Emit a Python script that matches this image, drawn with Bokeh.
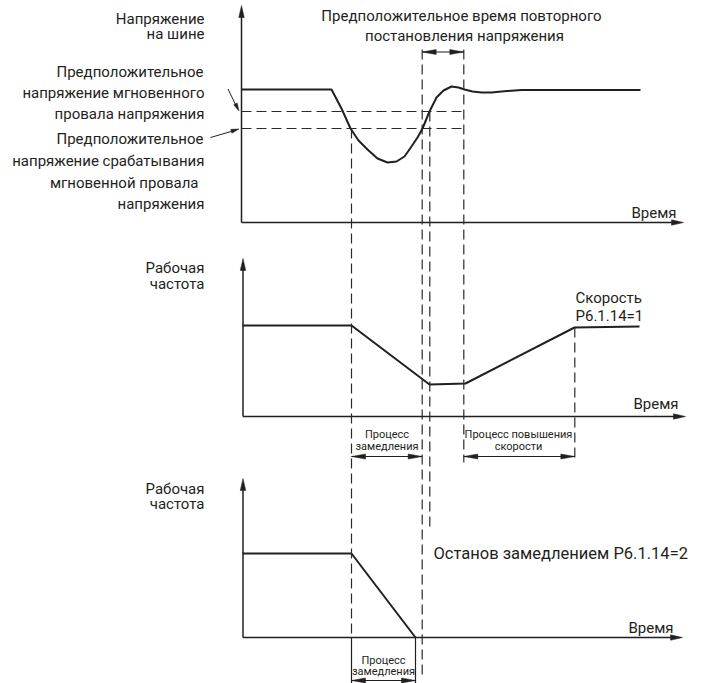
from bokeh.plotting import figure
from bokeh.models import Range1d
from bokeh.core.properties import value
from bokeh.embed import file_html
from bokeh.resources import INLINE
import math

# ---------------- data (diagram units = px) ----------------
# Panel 1: bus voltage curve
volt_t = [241, 331, 341, 350, 358, 367, 377, 387, 396, 404, 411, 417, 422, 429, 436,
          443, 451, 458, 464, 472, 481, 491, 501, 521, 640]
volt_v = [89, 89, 108, 128, 140, 149, 158, 162, 161, 156, 146, 137, 128, 111, 97,
          90, 86, 87, 89, 91, 92, 92, 91, 89.5, 89.5]
# Panel 2: working frequency, P6.1.14=1
freq1_t = [242, 351, 429, 465, 574, 639]
freq1_f = [325, 325, 384, 383, 327, 326]
# Panel 3: working frequency, P6.1.14=2
freq2_t = [242, 351, 415]
freq2_f = [553, 553, 637]
# threshold levels (panel 1)
level_recover = 111
level_trigger = 128
# event times
t_dip = 351
t_rec_a = 421.7
t_rec_b = 429.3
t_restore = 463.3
t_accel_end = 574.3
t_stop = 415
# panel axes: (x of y-axis, y of x-axis, top of y-axis, right end of x-axis)
panel_axes = [(241, 222, 5, 683), (242.5, 416, 258, 685), (242.5, 637, 478, 682)]

INK = "#231f20"
DASH = "#2a2a2a"
FONT = value("Roboto")

p = figure(width=701, height=683, x_range=Range1d(0, 701), y_range=Range1d(683, 0),
           output_backend="svg", toolbar_location=None, min_border=0)
p.axis.visible = False
p.grid.visible = False
p.outline_line_color = None

heads_x, heads_y = [], []


def head(xt, yt, xf, yf, L=12, W=5.5):
    dx, dy = xt - xf, yt - yf
    n = math.hypot(dx, dy)
    ux, uy = dx / n, dy / n
    bx, by = xt - ux * L, yt - uy * L
    px, py = -uy, ux
    heads_x.append([xt, bx + px * W / 2, bx - px * W / 2])
    heads_y.append([yt, by + py * W / 2, by - py * W / 2])


# axes
for (ax, ay, top, right) in panel_axes:
    p.segment(x0=[ax, ax], y0=[ay, ay], x1=[ax, right - 6], y1=[top + 6, ay],
              line_color=INK, line_width=1.5)
    head(ax, top, ax, ay, 12, 5.5)
    head(right, ay, ax, ay, 12, 5.5)

# curves
p.line(volt_t, volt_v, line_color=INK, line_width=2)
p.line(freq1_t, freq1_f, line_color=INK, line_width=2)
p.line(freq2_t, freq2_f, line_color=INK, line_width=2)

# dashed guides
dx0 = [241, 241, t_dip, t_rec_a, t_rec_b, t_restore, t_accel_end]
dy0 = [level_recover, level_trigger, level_trigger, 49, level_recover, 49, freq1_f[4]]
dx1 = [t_restore, t_restore, t_dip, t_rec_a, t_rec_b, t_restore, t_accel_end]
dy1 = [level_recover, level_trigger, panel_axes[2][1], 676, 528, 462, 460]
p.segment(x0=dx0, y0=dy0, x1=dx1, y1=dy1, line_color=DASH, line_width=1.2, line_dash="10 5")

# solid bounds below panel 3
p.segment(x0=[t_dip, t_stop], y0=[panel_axes[2][1], panel_axes[2][1]],
          x1=[t_dip, t_stop], y1=[683, 683], line_color=INK, line_width=1.2)

# double arrows
dbl = [(t_rec_a, t_restore, 51.5), (t_dip, t_rec_a, 456), (t_restore, t_accel_end, 456),
       (t_dip, t_stop, 680)]
for (a, b, yy) in dbl:
    p.segment(x0=[a], y0=[yy], x1=[b], y1=[yy], line_color=INK, line_width=1.2)
    head(a, yy, b, yy, 14, 5)
    head(b, yy, a, yy, 14, 5)

# label pointer arrows
p.segment(x0=[227.5, 210], y0=[88.5, 137], x1=[236, 234], y1=[106, 130], line_color=INK, line_width=1)
head(238.5, 110.5, 227.5, 88.5, 8, 4)
head(238.5, 128.5, 210, 137, 8, 4)

p.patches(heads_x, heads_y, fill_color=INK, line_color=INK, line_width=0.5)


# ---------------- texts ----------------
def txt(xs, ys, ts, align, size):
    p.text(x=xs, y=ys, text=ts, text_align=align, text_baseline="middle",
           text_font=FONT, text_font_size=size, text_color=INK)


txt([461, 464], [15, 35], ["Предположительное время повторного", "постановления напряжения"],
    "center", "15px")
txt([204, 204, 203, 204, 204, 203, 204, 198, 204, 204, 204, 204, 204],
    [18.5, 33, 71, 92, 113, 138, 160, 182, 203, 267, 283, 488, 503],
    ["Напряжение", "на шине", "Предположительное", "напряжение мгновенного",
     "провала напряжения", "Предположительное", "напряжение срабатывания",
     "мгновенной провала", "напряжения", "Рабочая", "частота", "Рабочая", "частота"],
    "right", "15px")
txt([676, 678, 673], [212, 403, 627], ["Время", "Время", "Время"], "right", "15px")
txt([575, 575], [297, 315], ["Скорость", "P6.1.14=1"], "left", "15px")
txt([433], [553], ["Останов замедлением P6.1.14=2"], "left", "16.5px")
txt([386.5, 386.5, 518, 518, 383, 383], [434, 446, 434, 446, 660, 671],
    ["Процесс", "замедления", "Процесс повышения", "скорости", "Процесс", "замедления"],
    "center", "11px")

open("out.html", "w").write(file_html(p, INLINE))
